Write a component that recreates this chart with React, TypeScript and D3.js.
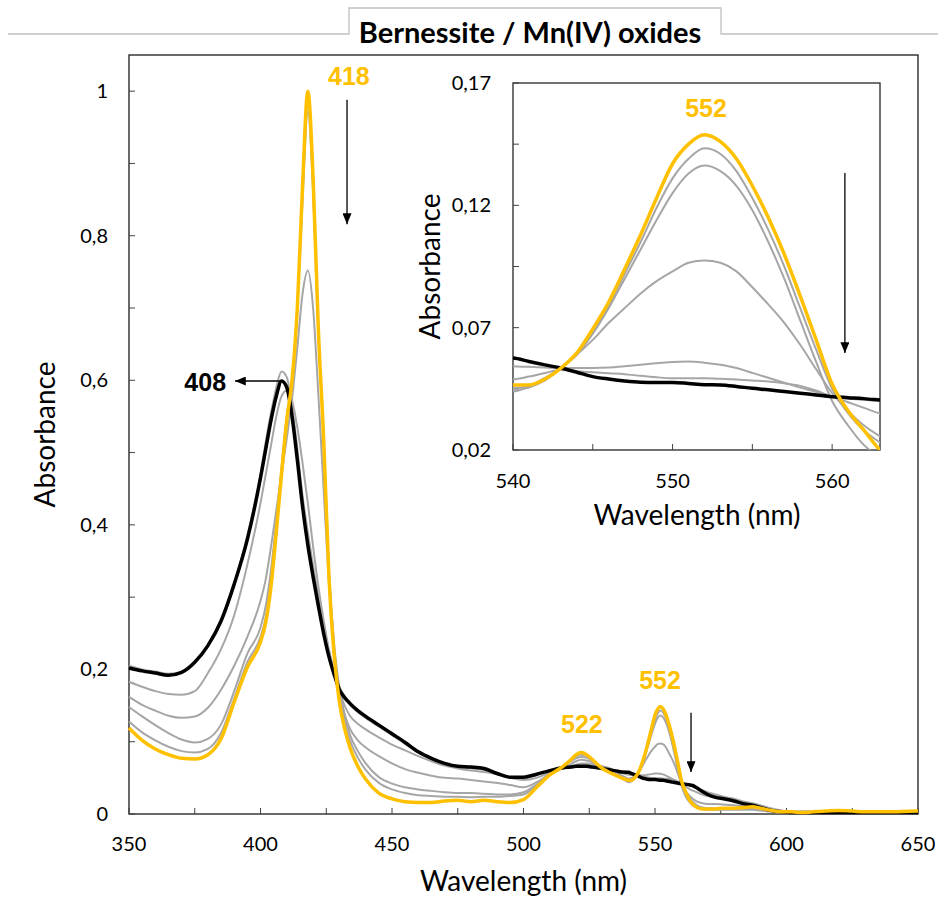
import React, { useRef, useEffect } from 'react';
import * as d3 from 'd3';

// wavelength grid (nm), 1 nm steps around the 552 band for the inset
const wavelengths = [
  350, 355, 360, 365, 370, 375, 380, 385, 390, 395,
  400, 402, 404, 406, 408, 410, 412, 414, 416, 418,
  420, 422, 424, 426, 428, 430, 432, 434, 437, 440,
  445, 450, 455, 460, 465, 470, 475, 480, 485, 490,
  495, 500, 505, 510, 515, 518, 520, 522, 524, 526,
  528, 530, 533, 536, 538, 540, 541, 542, 543, 544,
  545, 546, 547, 548, 549, 550, 551, 552, 553, 554,
  555, 556, 557, 558, 559, 560, 561, 562, 563, 564,
  566, 568, 570, 573, 576, 580, 584, 587, 590, 594,
  598, 602, 606, 610, 615, 620, 625, 630, 640, 650,
];

const yellowSpectrum = [
  0.119, 0.102, 0.09, 0.082, 0.077, 0.076, 0.082, 0.104, 0.155, 0.203,
  0.238, 0.265, 0.315, 0.39, 0.47, 0.545, 0.6, 0.7, 0.87, 1.0,
  0.88, 0.67, 0.52, 0.33, 0.22, 0.155, 0.118, 0.092, 0.066, 0.048,
  0.029, 0.021, 0.017, 0.016, 0.016, 0.018, 0.019, 0.017, 0.019, 0.017,
  0.016, 0.02, 0.037, 0.054, 0.066, 0.075, 0.082, 0.085, 0.082, 0.076,
  0.069, 0.063, 0.057, 0.052, 0.049, 0.0466, 0.0466, 0.049, 0.0535, 0.0597,
  0.0695, 0.0805, 0.094, 0.108, 0.123, 0.137, 0.145, 0.1488, 0.146, 0.139,
  0.128, 0.115, 0.1, 0.083, 0.065, 0.047, 0.036, 0.028, 0.02, 0.015,
  0.009, 0.007, 0.007, 0.007, 0.008, 0.008, 0.009, 0.01, 0.008, 0.005,
  0.003, 0.003, 0.002, 0.003, 0.004, 0.005, 0.004, 0.003, 0.003, 0.004,
];

const gray1 = [
  0.128, 0.113, 0.102, 0.093, 0.087, 0.085, 0.09, 0.112, 0.16, 0.21,
  0.245, 0.272, 0.322, 0.395, 0.475, 0.548, 0.6, 0.7, 0.865, 0.985,
  0.87, 0.665, 0.52, 0.335, 0.228, 0.165, 0.127, 0.102, 0.078, 0.061,
  0.043, 0.034, 0.029, 0.026, 0.025, 0.024, 0.024, 0.023, 0.024, 0.024,
  0.025, 0.027, 0.04, 0.055, 0.066, 0.074, 0.079, 0.082, 0.08, 0.075,
  0.069, 0.064, 0.058, 0.053, 0.049, 0.0453, 0.046, 0.0485, 0.0535, 0.059,
  0.068, 0.079, 0.092, 0.105, 0.119, 0.131, 0.139, 0.1433, 0.141, 0.134,
  0.123, 0.11, 0.095, 0.078, 0.061, 0.045, 0.035, 0.028, 0.023, 0.018,
  0.012, 0.009, 0.008, 0.008, 0.008, 0.008, 0.008, 0.008, 0.007, 0.004,
  0.003, 0.002, 0.002, 0.002, 0.002, 0.002, 0.002, 0.002, 0.002, 0.002,
];

const gray2 = [
  0.148, 0.135, 0.123, 0.112, 0.103, 0.099, 0.104, 0.124, 0.17, 0.222,
  0.258, 0.288, 0.338, 0.405, 0.48, 0.55, 0.6, 0.695, 0.85, 0.971,
  0.86, 0.665, 0.52, 0.34, 0.235, 0.175, 0.136, 0.11, 0.087, 0.07,
  0.051, 0.042, 0.037, 0.034, 0.032, 0.03, 0.029, 0.029, 0.028, 0.027,
  0.027, 0.03, 0.041, 0.055, 0.066, 0.073, 0.077, 0.079, 0.078, 0.074,
  0.069, 0.064, 0.058, 0.053, 0.049, 0.0445, 0.0455, 0.0485, 0.0535, 0.059,
  0.0675, 0.078, 0.09, 0.102, 0.114, 0.125, 0.133, 0.1363, 0.134, 0.128,
  0.118, 0.105, 0.09, 0.073, 0.056, 0.04, 0.03, 0.022, 0.017, 0.013,
  0.009, 0.007, 0.006, 0.006, 0.006, 0.006, 0.006, 0.006, 0.005, 0.003,
  0.002, 0.002, 0.002, 0.002, 0.002, 0.002, 0.002, 0.002, 0.002, 0.002,
];

const gray3 = [
  0.162, 0.151, 0.143, 0.136, 0.133, 0.135, 0.147, 0.172, 0.205, 0.245,
  0.295, 0.325, 0.37, 0.42, 0.47, 0.52, 0.575, 0.645, 0.72, 0.752,
  0.7, 0.58, 0.45, 0.32, 0.225, 0.17, 0.138, 0.118, 0.102, 0.092,
  0.08, 0.07, 0.062, 0.057, 0.053, 0.05, 0.049, 0.047, 0.045, 0.043,
  0.04, 0.037, 0.044, 0.055, 0.064, 0.069, 0.073, 0.075, 0.074, 0.072,
  0.068, 0.064, 0.058, 0.052, 0.048, 0.0439, 0.046, 0.0495, 0.0535, 0.059,
  0.065, 0.072, 0.078, 0.084, 0.089, 0.093, 0.0965, 0.0975, 0.0965, 0.093,
  0.0865, 0.0795, 0.072, 0.063, 0.053, 0.0432, 0.036, 0.03, 0.0256, 0.022,
  0.017, 0.015, 0.014, 0.014, 0.013, 0.012, 0.011, 0.01, 0.007, 0.004,
  0.003, 0.002, 0.002, 0.002, 0.002, 0.002, 0.002, 0.002, 0.002, 0.002,
];

const gray4 = [
  0.183, 0.176, 0.17, 0.166, 0.165, 0.17, 0.195, 0.228, 0.275, 0.345,
  0.43, 0.47, 0.51, 0.55, 0.578, 0.586, 0.572, 0.535, 0.485, 0.43,
  0.37, 0.315, 0.268, 0.228, 0.195, 0.17, 0.15, 0.136, 0.125, 0.117,
  0.106, 0.096, 0.088, 0.08, 0.073, 0.067, 0.063, 0.06, 0.058, 0.055,
  0.05, 0.047, 0.05, 0.057, 0.063, 0.066, 0.068, 0.07, 0.07, 0.069,
  0.067, 0.065, 0.062, 0.058, 0.056, 0.0542, 0.054, 0.0537, 0.0535, 0.0535,
  0.0535, 0.0537, 0.0542, 0.0548, 0.0555, 0.056, 0.0562, 0.0557, 0.0548, 0.0535,
  0.0515, 0.0495, 0.0475, 0.0455, 0.0437, 0.0418, 0.0395, 0.0372, 0.0349, 0.033,
  0.03, 0.027, 0.025, 0.024, 0.022, 0.019, 0.016, 0.014, 0.011, 0.007,
  0.004, 0.003, 0.002, 0.002, 0.002, 0.002, 0.002, 0.002, 0.002, 0.002,
];

const gray5 = [
  0.205, 0.2, 0.197, 0.194, 0.196, 0.21, 0.233, 0.268, 0.32, 0.385,
  0.47, 0.515, 0.555, 0.59, 0.612, 0.604, 0.565, 0.505, 0.44, 0.39,
  0.343, 0.3, 0.26, 0.226, 0.199, 0.176, 0.163, 0.151, 0.141, 0.133,
  0.121, 0.109, 0.097, 0.085, 0.076, 0.069, 0.065, 0.063, 0.061, 0.055,
  0.05, 0.05, 0.054, 0.06, 0.064, 0.066, 0.067, 0.068, 0.068, 0.068,
  0.067, 0.066, 0.063, 0.056, 0.052, 0.0489, 0.05, 0.0515, 0.0527, 0.0522,
  0.0518, 0.0514, 0.051, 0.0503, 0.0497, 0.0493, 0.0493, 0.0493, 0.0491, 0.0488,
  0.0484, 0.048, 0.0473, 0.0462, 0.0443, 0.0418, 0.041, 0.0405, 0.04, 0.0395,
  0.036, 0.033, 0.03, 0.027, 0.024, 0.021, 0.017, 0.015, 0.012, 0.008,
  0.005, 0.003, 0.002, 0.002, 0.002, 0.002, 0.002, 0.002, 0.002, 0.002,
];

const blackSpectrum = [
  0.202, 0.198, 0.195, 0.192, 0.196, 0.21, 0.233, 0.267, 0.318, 0.38,
  0.465, 0.505, 0.545, 0.578, 0.599, 0.59, 0.55, 0.49, 0.425, 0.372,
  0.328, 0.288, 0.25, 0.218, 0.193, 0.172, 0.161, 0.153, 0.143, 0.135,
  0.123, 0.111, 0.099, 0.086, 0.077, 0.07, 0.066, 0.065, 0.063, 0.056,
  0.051, 0.051, 0.055, 0.06, 0.064, 0.065, 0.066, 0.066, 0.066, 0.065,
  0.064, 0.063, 0.061, 0.059, 0.058, 0.0576, 0.0562, 0.0548, 0.0535, 0.0518,
  0.05, 0.049, 0.0482, 0.0477, 0.0476, 0.0476, 0.0472, 0.0467, 0.0466, 0.046,
  0.0452, 0.0446, 0.0439, 0.0432, 0.0425, 0.0418, 0.0414, 0.041, 0.0404, 0.0398,
  0.036, 0.031, 0.027, 0.023, 0.021, 0.018, 0.014, 0.012, 0.009, 0.005,
  0.003, 0.002, 0.002, 0.002, 0.002, 0.002, 0.002, 0.002, 0.002, 0.002,
];

// ticks
const mainXTicks = [350, 375, 400, 425, 450, 475, 500, 525, 550, 575, 600, 625, 650];
const mainXLabels = [350, 400, 450, 500, 550, 600, 650];
const mainYTicks = [0, 0.1, 0.2, 0.3, 0.4, 0.5, 0.6, 0.7, 0.8, 0.9, 1];
const mainYLabels = [0, 0.2, 0.4, 0.6, 0.8, 1];
const insetXTicks = [540, 545, 550, 555, 560];
const insetXLabels = [540, 550, 560];
const insetYTicks = [0.02, 0.045, 0.07, 0.095, 0.12, 0.145, 0.17];
const insetYLabels = [0.02, 0.07, 0.12, 0.17];

// annotations in data units
const mainPeakLabels = [
  { text: '418', w: 433.6, a: 1.008, color: '#FFC000', anchor: 'middle' },
  { text: '408', w: 386.9, a: 0.585, color: '#000000', anchor: 'end' },
  { text: '522', w: 522.2, a: 0.112, color: '#FFC000', anchor: 'middle' },
  { text: '552', w: 551.9, a: 0.173, color: '#FFC000', anchor: 'middle' },
];
const mainArrows = [
  { w1: 432.9, a1: 0.988, w2: 432.9, a2: 0.816 },
  { w1: 408.2, a1: 0.599, w2: 390.3, a2: 0.599 },
  { w1: 563.7, a1: 0.14, w2: 563.7, a2: 0.058 },
];
const insetPeakLabels = [{ text: '552', w: 552.1, a: 0.156 }];
const insetArrows = [{ w1: 560.8, a1: 0.1332, w2: 560.8, a2: 0.0596 }];

const fmt = (v: number) => String(+v.toFixed(2)).replace('.', ',');

const App = () => {
  const svgRef = useRef<SVGSVGElement>(null);

  useEffect(() => {
    const svg = d3.select(svgRef.current);
    svg.selectAll('*').remove();

    const series = [
      { values: gray5, color: '#a6a6a6', width: 2 },
      { values: gray4, color: '#a6a6a6', width: 2 },
      { values: gray3, color: '#a6a6a6', width: 2 },
      { values: gray2, color: '#a6a6a6', width: 2 },
      { values: gray1, color: '#a6a6a6', width: 2 },
      { values: blackSpectrum, color: '#000000', width: 3.5 },
      { values: yellowSpectrum, color: '#FFC000', width: 3.5 },
    ];

    const textFont = 'Lato, "DejaVu Sans", sans-serif';
    const peakFont = '"Liberation Sans", Arial, sans-serif';
    const tickSize = 20;
    const titleSize = 28;

    const defs = svg.append('defs');
    defs.append('marker')
      .attr('id', 'arrowHead')
      .attr('viewBox', '0 0 12 10')
      .attr('refX', 12)
      .attr('refY', 5)
      .attr('markerWidth', 12)
      .attr('markerHeight', 9)
      .attr('markerUnits', 'userSpaceOnUse')
      .attr('orient', 'auto')
      .append('path')
      .attr('d', 'M0,0 L12,5 L0,10 z')
      .attr('fill', '#000');

    // header tab
    svg.append('path')
      .attr('d', 'M8,34 H349 V8 H721 V34 H938')
      .attr('fill', 'none')
      .attr('stroke', '#c0c0c0')
      .attr('stroke-width', 1.3);
    svg.append('text')
      .attr('x', 530)
      .attr('y', 43)
      .attr('text-anchor', 'middle')
      .attr('font-family', textFont)
      .attr('font-weight', 'bold')
      .attr('font-size', 29)
      .text('Bernessite / Mn(IV) oxides');

    // ---- main chart ----
    const x = d3.scaleLinear().domain([350, 650]).range([129, 918]);
    const y = d3.scaleLinear().domain([0, 1.05]).range([814, 55]);

    const main = svg.append('g');
    main.append('rect')
      .attr('x', x(350)).attr('y', y(1.05))
      .attr('width', x(650) - x(350)).attr('height', y(0) - y(1.05))
      .attr('fill', 'none').attr('stroke', '#1a1a1a').attr('stroke-width', 1.3);

    main.append('g')
      .selectAll('line')
      .data(mainXTicks)
      .enter()
      .append('line')
      .attr('x1', d => x(d)).attr('x2', d => x(d))
      .attr('y1', y(0)).attr('y2', y(0) - 6)
      .attr('stroke', '#404040');
    main.append('g')
      .selectAll('line')
      .data(mainYTicks)
      .enter()
      .append('line')
      .attr('x1', x(350)).attr('x2', x(350) + 6)
      .attr('y1', d => y(d)).attr('y2', d => y(d))
      .attr('stroke', '#404040');

    main.append('g')
      .selectAll('text')
      .data(mainXLabels)
      .enter()
      .append('text')
      .attr('x', d => x(d))
      .attr('y', y(0) + 37)
      .attr('text-anchor', 'middle')
      .attr('font-family', textFont)
      .attr('font-size', tickSize)
      .text(d => d);
    main.append('g')
      .selectAll('text')
      .data(mainYLabels)
      .enter()
      .append('text')
      .attr('x', 108)
      .attr('y', d => y(d) + 7)
      .attr('text-anchor', 'end')
      .attr('font-family', textFont)
      .attr('font-size', tickSize)
      .text(d => fmt(d));

    main.append('text')
      .attr('x', (x(350) + x(650)) / 2)
      .attr('y', 891)
      .attr('text-anchor', 'middle')
      .attr('font-family', textFont)
      .attr('font-size', titleSize)
      .text('Wavelength (nm)');
    main.append('text')
      .attr('transform', `translate(55, ${(y(0) + y(1.05)) / 2}) rotate(-90)`)
      .attr('text-anchor', 'middle')
      .attr('font-family', textFont)
      .attr('font-size', titleSize)
      .text('Absorbance');

    const line = d3.line<number>()
      .x((d, i) => x(wavelengths[i]))
      .y(d => y(d))
      .curve(d3.curveMonotoneX);

    main.append('g')
      .selectAll('path')
      .data(series)
      .enter()
      .append('path')
      .attr('d', d => line(d.values))
      .attr('fill', 'none')
      .attr('stroke', d => d.color)
      .attr('stroke-width', d => d.width)
      .attr('stroke-linejoin', 'round');

    main.append('g')
      .selectAll('text')
      .data(mainPeakLabels)
      .enter()
      .append('text')
      .attr('x', d => x(d.w))
      .attr('y', d => y(d.a))
      .attr('text-anchor', d => d.anchor)
      .attr('font-family', peakFont)
      .attr('font-weight', 'bold')
      .attr('font-size', 25)
      .attr('fill', d => d.color)
      .text(d => d.text);

    main.append('g')
      .selectAll('line')
      .data(mainArrows)
      .enter()
      .append('line')
      .attr('x1', d => x(d.w1)).attr('y1', d => y(d.a1))
      .attr('x2', d => x(d.w2)).attr('y2', d => y(d.a2))
      .attr('stroke', '#000')
      .attr('stroke-width', 1.3)
      .attr('marker-end', 'url(#arrowHead)');

    // ---- inset ----
    const xi = d3.scaleLinear().domain([540, 563]).range([513, 880]);
    const yi = d3.scaleLinear().domain([0.02, 0.17]).range([450, 83]);

    const inset = svg.append('g');
    inset.append('rect')
      .attr('x', xi(540)).attr('y', yi(0.17))
      .attr('width', xi(563) - xi(540)).attr('height', yi(0.02) - yi(0.17))
      .attr('fill', '#fff').attr('stroke', '#262626').attr('stroke-width', 1.3);

    defs.append('clipPath')
      .attr('id', 'insetClip')
      .append('rect')
      .attr('x', xi(540)).attr('y', yi(0.17))
      .attr('width', xi(563) - xi(540)).attr('height', yi(0.02) - yi(0.17));

    inset.append('g')
      .selectAll('line')
      .data(insetXTicks)
      .enter()
      .append('line')
      .attr('x1', d => xi(d)).attr('x2', d => xi(d))
      .attr('y1', yi(0.02)).attr('y2', yi(0.02) - 6)
      .attr('stroke', '#404040');
    inset.append('g')
      .selectAll('line')
      .data(insetYTicks)
      .enter()
      .append('line')
      .attr('x1', xi(540)).attr('x2', xi(540) + 6)
      .attr('y1', d => yi(d)).attr('y2', d => yi(d))
      .attr('stroke', '#404040');

    inset.append('g')
      .selectAll('text')
      .data(insetXLabels)
      .enter()
      .append('text')
      .attr('x', d => xi(d))
      .attr('y', yi(0.02) + 38)
      .attr('text-anchor', 'middle')
      .attr('font-family', textFont)
      .attr('font-size', tickSize)
      .text(d => d);
    inset.append('g')
      .selectAll('text')
      .data(insetYLabels)
      .enter()
      .append('text')
      .attr('x', 491)
      .attr('y', d => yi(d) + 7)
      .attr('text-anchor', 'end')
      .attr('font-family', textFont)
      .attr('font-size', tickSize)
      .text(d => fmt(d));

    inset.append('text')
      .attr('x', 697)
      .attr('y', 525)
      .attr('text-anchor', 'middle')
      .attr('font-family', textFont)
      .attr('font-size', titleSize)
      .text('Wavelength (nm)');
    inset.append('text')
      .attr('transform', `translate(440, ${(yi(0.02) + yi(0.17)) / 2}) rotate(-90)`)
      .attr('text-anchor', 'middle')
      .attr('font-family', textFont)
      .attr('font-size', titleSize)
      .text('Absorbance');

    const insetIdx = wavelengths
      .map((w, i) => i)
      .filter(i => wavelengths[i] >= 538 && wavelengths[i] <= 566);
    const insetLine = d3.line<number>()
      .x(i => xi(wavelengths[i]))
      .curve(d3.curveMonotoneX);

    inset.append('g')
      .attr('clip-path', 'url(#insetClip)')
      .selectAll('path')
      .data(series)
      .enter()
      .append('path')
      .attr('d', s => insetLine.y(i => yi(s.values[i]))(insetIdx))
      .attr('fill', 'none')
      .attr('stroke', d => d.color)
      .attr('stroke-width', d => d.width)
      .attr('stroke-linejoin', 'round');

    inset.append('g')
      .selectAll('text')
      .data(insetPeakLabels)
      .enter()
      .append('text')
      .attr('x', d => xi(d.w))
      .attr('y', d => yi(d.a))
      .attr('text-anchor', 'middle')
      .attr('font-family', peakFont)
      .attr('font-weight', 'bold')
      .attr('font-size', 25)
      .attr('fill', '#FFC000')
      .text(d => d.text);

    inset.append('g')
      .selectAll('line')
      .data(insetArrows)
      .enter()
      .append('line')
      .attr('x1', d => xi(d.w1)).attr('y1', d => yi(d.a1))
      .attr('x2', d => xi(d.w2)).attr('y2', d => yi(d.a2))
      .attr('stroke', '#000')
      .attr('stroke-width', 1.3)
      .attr('marker-end', 'url(#arrowHead)');
  }, []);

  return (
    <svg
      ref={svgRef}
      width={938}
      height={908}
      style={{ position: 'absolute', left: 0, top: 0, background: '#fff' }}
    />
  );
};

export default App;
